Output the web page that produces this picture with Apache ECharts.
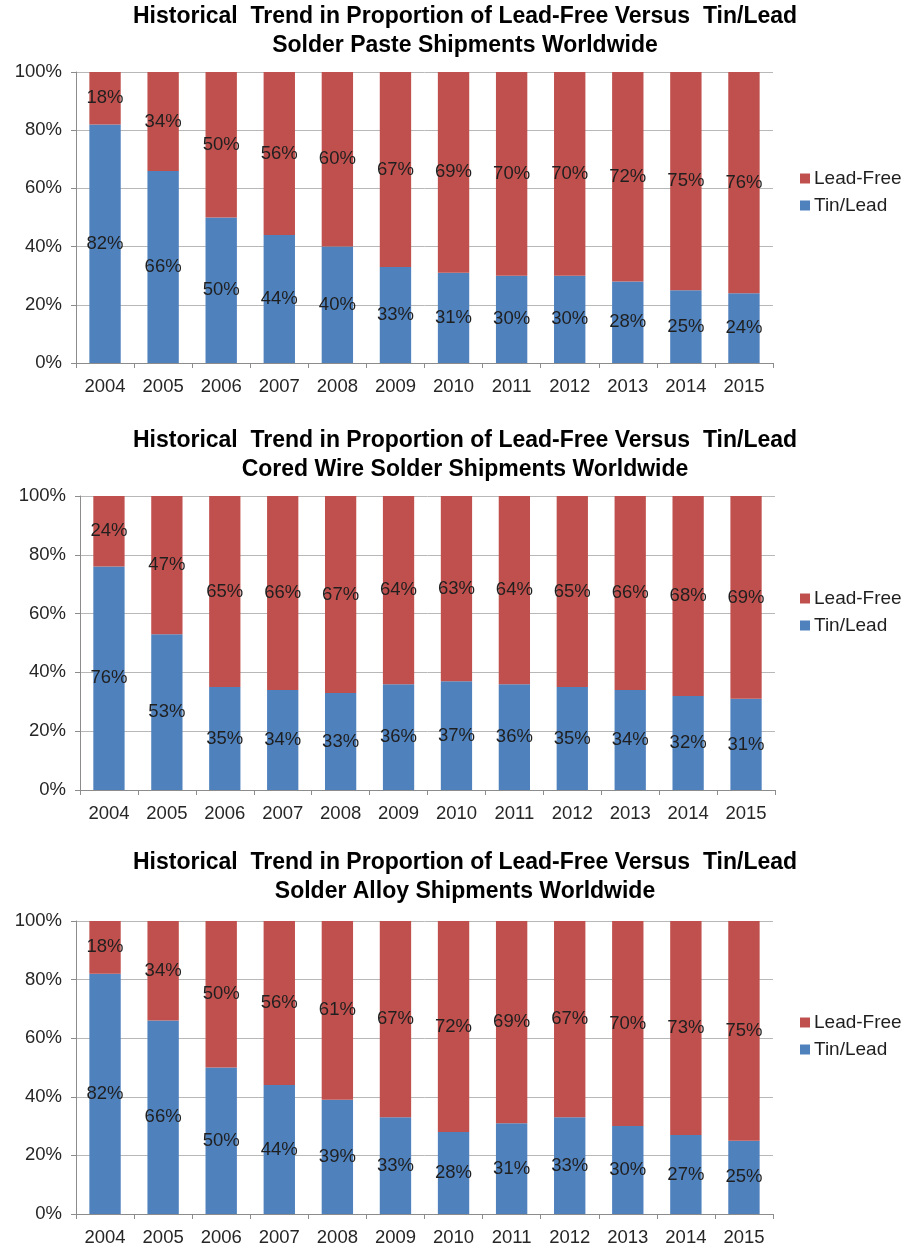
<!DOCTYPE html>
<html>
<head>
<meta charset="utf-8">
<script src="https://cdn.jsdelivr.net/npm/echarts@6/dist/echarts.min.js"></script>
<style>
  html, body { margin: 0; padding: 0; background: #ffffff; }
  #chart { width: 908px; height: 1249px; }
</style>
</head>
<body>
<div id="chart"></div>
<script>
// Shipment years (x-axis categories)
const years = ['2004', '2005', '2006', '2007', '2008', '2009', '2010', '2011', '2012', '2013', '2014', '2015'];

// Solder paste shipments, percent of total
const pasteTinLead  = [82, 66, 50, 44, 40, 33, 31, 30, 30, 28, 25, 24];
const pasteLeadFree = [18, 34, 50, 56, 60, 67, 69, 70, 70, 72, 75, 76];

// Cored wire solder shipments, percent of total
const wireTinLead  = [76, 53, 35, 34, 33, 36, 37, 36, 35, 34, 32, 31];
const wireLeadFree = [24, 47, 65, 66, 67, 64, 63, 64, 65, 66, 68, 69];

// Solder alloy shipments, percent of total
const alloyTinLead  = [82, 66, 50, 44, 39, 33, 28, 31, 33, 30, 27, 25];
const alloyLeadFree = [18, 34, 50, 56, 61, 67, 72, 69, 67, 70, 73, 75];

const chartTitles = [
  'Historical  Trend in Proportion of Lead-Free Versus  Tin/Lead\nSolder Paste Shipments Worldwide',
  'Historical  Trend in Proportion of Lead-Free Versus  Tin/Lead\nCored Wire Solder Shipments Worldwide',
  'Historical  Trend in Proportion of Lead-Free Versus  Tin/Lead\nSolder Alloy Shipments Worldwide'
];
const seriesNames = ['Lead-Free', 'Tin/Lead'];
const yTicks = { min: 0, max: 100, interval: 20 };

const FONT = '"Liberation Sans", Arial, sans-serif';
const RED = '#C0504D';
const BLUE = '#4F81BD';

const panels = [
  { tin: pasteTinLead, free: pasteLeadFree, grid: { left: 76, right: 135, top: 72, height: 291 }, titleTop: 2,   legendTop: 169 },
  { tin: wireTinLead,  free: wireLeadFree,  grid: { left: 80, right: 133, top: 496, height: 294 }, titleTop: 426, legendTop: 589 },
  { tin: alloyTinLead, free: alloyLeadFree, grid: { left: 76, right: 135, top: 921, height: 293 }, titleTop: 848, legendTop: 1013 }
];

const option = {
  animation: false,
  backgroundColor: '#ffffff',
  textStyle: { fontFamily: FONT },
  title: [], legend: [], grid: [], xAxis: [], yAxis: [], series: []
};

const labelStyle = {
  show: true,
  position: 'inside',
  formatter: '{c}%',
  fontSize: 18.5,
  fontFamily: FONT,
  color: '#1f1f1f'
};

panels.forEach((p, i) => {
  option.title.push({
    text: chartTitles[i],
    left: 465,
    textAlign: 'center',
    top: p.titleTop,
    padding: 0,
    textStyle: { fontFamily: FONT, fontSize: 23, fontWeight: 'bold', lineHeight: 29, color: '#000000' }
  });
  option.legend.push({
    data: seriesNames,
    orient: 'vertical',
    left: 800,
    top: p.legendTop,
    padding: 0,
    itemWidth: 10,
    itemHeight: 10,
    itemGap: 8,
    icon: 'rect',
    textStyle: { fontFamily: FONT, fontSize: 19, lineHeight: 19, color: '#1f1f1f', padding: [0, 0, 0, -1] }
  });
  option.grid.push(Object.assign({}, p.grid));
  option.xAxis.push({
    type: 'category',
    gridIndex: i,
    data: years,
    axisLine: { lineStyle: { color: '#8c8c8c', width: 1 } },
    axisTick: { show: true, length: 5, lineStyle: { color: '#8c8c8c' } },
    axisLabel: { fontSize: 18.5, fontFamily: FONT, color: '#262626', margin: 14 }
  });
  option.yAxis.push({
    type: 'value',
    gridIndex: i,
    min: yTicks.min,
    max: yTicks.max,
    interval: yTicks.interval,
    axisLine: { show: true, lineStyle: { color: '#8c8c8c', width: 1 } },
    axisTick: { show: true, length: 5, lineStyle: { color: '#8c8c8c' } },
    axisLabel: { formatter: '{value}%', fontSize: 18.5, fontFamily: FONT, color: '#262626', margin: 14 },
    splitLine: { show: true, lineStyle: { color: '#b8b8b8', width: 1 } }
  });
  option.series.push({
    name: 'Tin/Lead',
    type: 'bar',
    stack: 'panel' + i,
    xAxisIndex: i,
    yAxisIndex: i,
    data: p.tin,
    barCategoryGap: '46%',
    itemStyle: { color: BLUE },
    label: labelStyle
  });
  option.series.push({
    name: 'Lead-Free',
    type: 'bar',
    stack: 'panel' + i,
    xAxisIndex: i,
    yAxisIndex: i,
    data: p.free,
    barCategoryGap: '46%',
    itemStyle: { color: RED },
    label: labelStyle
  });
});

const chart = echarts.init(document.getElementById('chart'), null, { renderer: 'canvas' });
chart.setOption(option);
</script>
</body>
</html>
